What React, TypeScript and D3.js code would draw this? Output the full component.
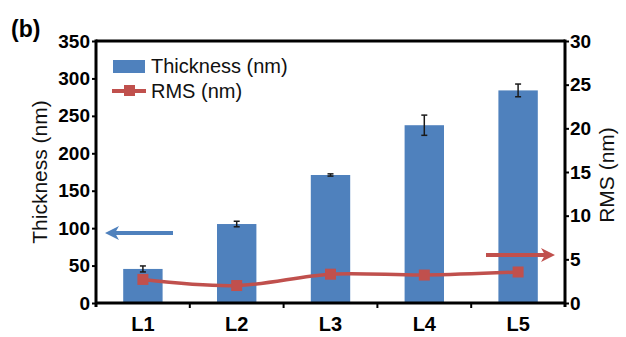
import { useEffect, useRef } from 'react';
import * as d3 from 'd3';

const CATEGORIES = ['L1', 'L2', 'L3', 'L4', 'L5'];
const THICKNESS = [45.5, 105.5, 171, 237.5, 284];
const THICKNESS_ERR = [4, 3.7, 1.5, 13.5, 8.5];
const RMS = [2.7, 2.0, 3.3, 3.2, 3.55];
const LEFT_TICKS = [0, 50, 100, 150, 200, 250, 300, 350];
const RIGHT_TICKS = [0, 5, 10, 15, 20, 25, 30];

const BLUE = '#4f81bd';
const RED = '#c0504d';
const FONT = 'Liberation Sans, Arial, sans-serif';

export default function App() {
  const ref = useRef<SVGSVGElement>(null);

  useEffect(() => {
    const svg = d3.select(ref.current);
    svg.selectAll('*').remove();

    const m = { top: 41, right: 61, bottom: 34, left: 96 };
    const W = 626, H = 337;
    const iw = W - m.left - m.right;
    const ih = H - m.top - m.bottom;

    const x = d3.scaleBand().domain(CATEGORIES).range([0, iw]).paddingInner(0.58).paddingOuter(0.29);
    const yL = d3.scaleLinear().domain([0, 350]).range([ih, 0]);
    const yR = d3.scaleLinear().domain([0, 30]).range([ih, 0]);
    const band = d3.scaleBand().domain(CATEGORIES).range([0, iw]);

    const g = svg.append('g').attr('transform', `translate(${m.left},${m.top})`);

    // bars
    g.selectAll('rect.bar').data(CATEGORIES).enter().append('rect')
      .attr('x', d => x(d)!).attr('width', x.bandwidth())
      .attr('y', (_, i) => yL(THICKNESS[i])).attr('height', (_, i) => ih - yL(THICKNESS[i]))
      .attr('fill', BLUE);

    // error bars
    CATEGORIES.forEach((c, i) => {
      const cx = x(c)! + x.bandwidth() / 2;
      const y1 = yL(THICKNESS[i] + THICKNESS_ERR[i]);
      const y2 = yL(THICKNESS[i] - THICKNESS_ERR[i]);
      const eg = g.append('g').attr('stroke', '#1a1a1a').attr('stroke-width', 1.5);
      eg.append('line').attr('x1', cx).attr('x2', cx).attr('y1', y1).attr('y2', y2);
      eg.append('line').attr('x1', cx - 3).attr('x2', cx + 3).attr('y1', y1).attr('y2', y1);
      eg.append('line').attr('x1', cx - 3).attr('x2', cx + 3).attr('y1', y2).attr('y2', y2);
    });

    // RMS line
    const pts: [number, number][] = CATEGORIES.map((c, i) => [x(c)! + x.bandwidth() / 2, yR(RMS[i])]);
    const line = d3.line().curve(d3.curveCatmullRom.alpha(0.5));
    g.append('path').attr('d', line(pts)).attr('fill', 'none').attr('stroke', RED).attr('stroke-width', 3.5);
    g.selectAll('rect.mk').data(pts).enter().append('rect')
      .attr('x', d => d[0] - 5.5).attr('y', d => d[1] - 5.5).attr('width', 11).attr('height', 11)
      .attr('fill', RED);

    // axes
    const styleAxis = (sel: any) => {
      sel.select('.domain').remove();
      sel.selectAll('.tick line').attr('stroke', '#000').attr('stroke-width', 2);
      sel.selectAll('.tick text').attr('fill', '#000').attr('font-family', FONT)
        .attr('font-weight', 'bold').attr('font-size', '19px');
    };
    g.append('g').call(d3.axisLeft(yL).tickValues(LEFT_TICKS).tickSize(4).tickPadding(2)).call(styleAxis);
    g.append('g').attr('transform', `translate(${iw},0)`)
      .call(d3.axisRight(yR).tickValues(RIGHT_TICKS).tickSize(4).tickPadding(1)).call(styleAxis);

    const xa = g.append('g').attr('transform', `translate(0,${ih})`)
      .call(d3.axisBottom(band).tickSize(0).tickPadding(14));
    xa.select('.domain').remove();
    xa.selectAll('.tick text').attr('fill', '#000').attr('font-family', FONT)
      .attr('font-weight', 'bold').attr('font-size', '20px');
    CATEGORIES.slice(1).forEach(c => {
      g.append('line').attr('x1', band(c)!).attr('x2', band(c)!).attr('y1', ih).attr('y2', ih + 5)
        .attr('stroke', '#000').attr('stroke-width', 2);
    });

    // frame
    const fr = g.append('g').attr('stroke', '#000').attr('stroke-width', 3).attr('fill', 'none');
    fr.append('line').attr('x1', 0).attr('x2', iw).attr('y1', 0).attr('y2', 0);
    fr.append('line').attr('x1', 0).attr('x2', iw).attr('y1', ih).attr('y2', ih);
    fr.append('line').attr('x1', 0).attr('x2', 0).attr('y1', -1.5).attr('y2', ih + 4);
    fr.append('line').attr('x1', iw).attr('x2', iw).attr('y1', -1.5).attr('y2', ih + 4);

    // arrows
    const arrow = (x1: number, x2: number, y: number, color: string) => {
      const dir = Math.sign(x2 - x1);
      g.append('line').attr('x1', x1).attr('x2', x2 - dir * 8).attr('y1', y).attr('y2', y)
        .attr('stroke', color).attr('stroke-width', 4);
      g.append('path')
        .attr('d', `M${x2},${y} L${x2 - dir * 14},${y - 7} L${x2 - dir * 10},${y} L${x2 - dir * 14},${y + 7} Z`)
        .attr('fill', color);
    };
    arrow(173 - m.left, 105 - m.left, 233 - m.top, BLUE);
    arrow(486 - m.left, 555 - m.left, 255 - m.top, RED);

    // legend
    svg.append('rect').attr('x', 113).attr('y', 60).attr('width', 32).attr('height', 13).attr('fill', BLUE);
    svg.append('text').attr('x', 151).attr('y', 73).attr('font-family', FONT).attr('font-size', '20px')
      .attr('fill', '#111').text('Thickness (nm)');
    svg.append('line').attr('x1', 112).attr('x2', 146).attr('y1', 91).attr('y2', 91).attr('stroke', RED).attr('stroke-width', 4);
    svg.append('rect').attr('x', 124).attr('y', 85).attr('width', 11).attr('height', 11).attr('fill', RED);
    svg.append('text').attr('x', 151).attr('y', 98).attr('font-family', FONT).attr('font-size', '20px')
      .attr('fill', '#111').text('RMS (nm)');

    // titles
    svg.append('text').attr('transform', `translate(47,${m.top + ih / 2}) rotate(-90)`)
      .attr('text-anchor', 'middle').attr('font-family', FONT).attr('font-size', '21px')
      .attr('fill', '#111').text('Thickness (nm)');
    svg.append('text').attr('transform', `translate(614,${m.top + ih / 2 + 3}) rotate(-90)`)
      .attr('text-anchor', 'middle').attr('font-family', FONT).attr('font-size', '21px')
      .attr('fill', '#111').text('RMS (nm)');
    svg.append('text').attr('x', 11).attr('y', 37).attr('font-family', FONT).attr('font-size', '23px')
      .attr('font-weight', 'bold').attr('fill', '#000').text('(b)');
  }, []);

  return <svg ref={ref} width={626} height={337} style={{ position: 'absolute', left: 0, top: 0, background: '#fff' }} />;
}
